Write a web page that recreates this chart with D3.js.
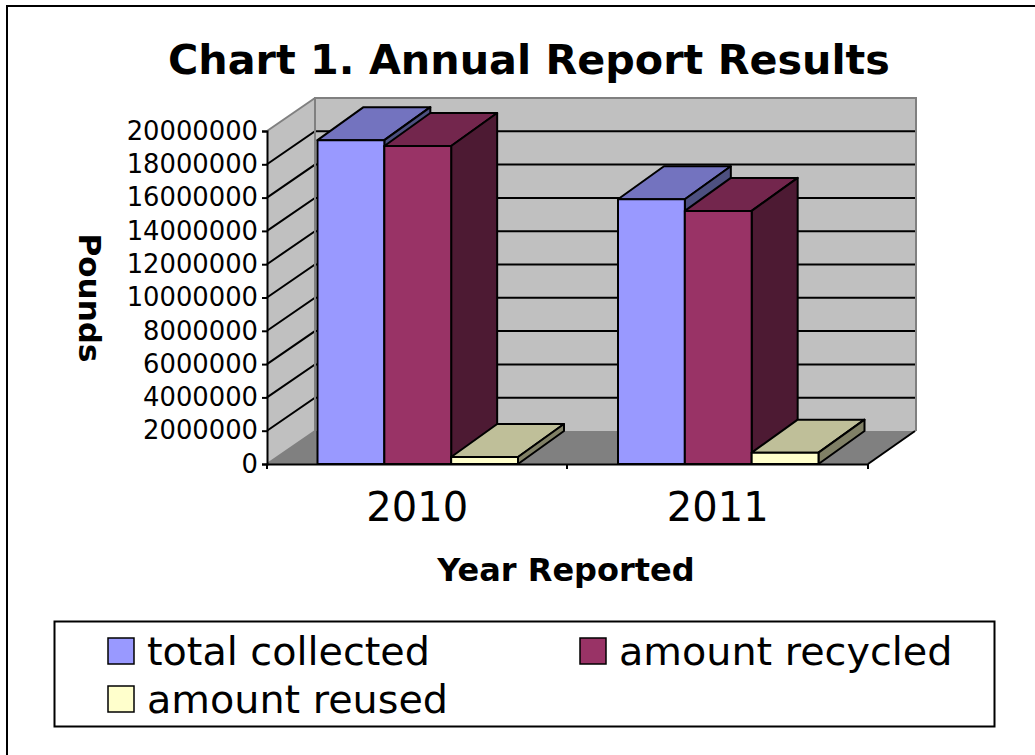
<!DOCTYPE html>
<html>
<head>
<meta charset="utf-8">
<script src="https://cdn.jsdelivr.net/npm/d3@7"></script>
<style>
  body { margin: 0; background: #fff; }
  text { font-family: "DejaVu Sans", Verdana, sans-serif; fill: #000; }
</style>
</head>
<body>
<svg width="1035" height="755"></svg>
<script>
const YEARS = ["2010", "2011"];
const SERIES = ["total collected", "amount recycled", "amount reused"];
const TOTAL_COLLECTED = [19450000, 15900000];
const AMOUNT_RECYCLED = [19100000, 15200000];
const AMOUNT_REUSED = [420000, 680000];
const Y_TICKS = [0, 2000000, 4000000, 6000000, 8000000, 10000000, 12000000, 14000000, 16000000, 18000000, 20000000];

const FRONT = ["#9999ff", "#993366", "#ffffcc"];
const TOP = ["#7373bf", "#73264d", "#bfbf99"];
const SIDE = ["#4d5080", "#4d1a33", "#808066"];

const VALUES = [TOTAL_COLLECTED, AMOUNT_RECYCLED, AMOUNT_REUSED];

const svg = d3.select("svg");

// depth of the fake 3d box
const DX = 46, DY = -33;

const x0 = d3.scaleBand().domain(YEARS).range([267, 868]);
const x1 = d3.scaleBand().domain(SERIES).range([50.5, 251]);
const y = d3.scaleLinear().domain([0, 20000000]).range([464, 131]);

const poly = (pts) => pts.map((p) => p.join(",")).join(" ");

// outer frame, only top and left show up
svg.append("path")
  .attr("d", "M7,755V6H1035")
  .attr("fill", "none").attr("stroke", "#000").attr("stroke-width", 2);

svg.append("text")
  .attr("x", 529).attr("y", 74)
  .attr("text-anchor", "middle")
  .attr("font-size", 41.3).attr("font-weight", "bold")
  .text("Chart 1. Annual Report Results");

// walls and floor
const x = 267, xr = 868, y0 = y(0), yt = y(20000000);
const xb = x + DX + 2, xrb = xr + DX + 2;
svg.append("polygon")
  .attr("points", poly([[xb, yt + DY], [xrb, yt + DY], [xrb, y0 + DY], [xb, y0 + DY]]))
  .attr("fill", "#c0c0c0");
svg.append("polygon")
  .attr("points", poly([[x, yt], [xb, yt + DY], [xb, y0 + DY], [x, y0]]))
  .attr("fill", "#c0c0c0");
svg.append("polygon")
  .attr("points", poly([[x, y0], [xb, y0 + DY], [xrb, y0 + DY], [xr, y0]]))
  .attr("fill", "#808080");

// gridlines run along the side wall then the back wall
svg.append("g").selectAll("polyline")
  .data(Y_TICKS.slice(1, -1))
  .enter()
  .append("polyline")
  .attr("points", (d) => poly([[x, y(d)], [xb, y(d) + DY], [xrb, y(d) + DY]]))
  .attr("fill", "none").attr("stroke", "#000").attr("stroke-width", 2);

// grey wall edges go over the gridlines
svg.append("path")
  .attr("d", `M${x},${y0}L${xb},${y0 + DY}V${yt + DY}H${xrb}V${y0 + DY}M${xb},${yt + DY}L${x},${yt}`)
  .attr("fill", "none").attr("stroke", "#808080").attr("stroke-width", 2);

// front right edge of the floor
svg.append("line")
  .attr("x1", xr).attr("y1", y0).attr("x2", xrb - 1).attr("y2", y0 + DY)
  .attr("stroke", "#000").attr("stroke-width", 2);

// bars
const rows = [];
YEARS.forEach((yr, i) => {
  SERIES.forEach((s, j) => {
    rows.push({ year: yr, series: s, index: j, value: VALUES[j][i] });
  });
});

const bars = svg.append("g").selectAll("g")
  .data(rows)
  .enter()
  .append("g")
  .attr("stroke", "#000").attr("stroke-width", 2).attr("stroke-linejoin", "round");

const left = (d) => x0(d.year) + x1(d.series);
const right = (d) => left(d) + x1.bandwidth();

bars.append("polygon")
  .attr("points", (d) => poly([[left(d), y(d.value)], [left(d) + DX, y(d.value) + DY], [right(d) + DX, y(d.value) + DY], [right(d), y(d.value)]]))
  .attr("fill", (d) => TOP[d.index]);
bars.append("polygon")
  .attr("points", (d) => poly([[right(d), y(d.value)], [right(d) + DX, y(d.value) + DY], [right(d) + DX, y(0) + DY], [right(d), y(0)]]))
  .attr("fill", (d) => SIDE[d.index]);
bars.append("rect")
  .attr("x", left)
  .attr("y", (d) => y(d.value))
  .attr("width", x1.bandwidth())
  .attr("height", (d) => y(0) - y(d.value))
  .attr("fill", (d) => FRONT[d.index]);

// axes
const yAxis = svg.append("g")
  .attr("transform", "translate(267,0)")
  .call(d3.axisLeft(y).tickValues(Y_TICKS).tickFormat(d3.format("d")).tickSize(5).tickPadding(4));
yAxis.selectAll("text").attr("font-size", 25.8).style("font-family", '"DejaVu Sans"');
yAxis.selectAll("line,path").attr("stroke", "#000").attr("stroke-width", 2);

const xAxis = svg.append("g")
  .attr("transform", "translate(0,464)")
  .call(d3.axisBottom(x0).tickSize(0).tickPadding(29));
xAxis.selectAll("text").attr("font-size", 40).style("font-family", '"DejaVu Sans"');
xAxis.select("path").attr("stroke", "#000").attr("stroke-width", 2);

svg.append("g").selectAll("line")
  .data([267, 567, 868])
  .enter()
  .append("line")
  .attr("x1", (d) => d).attr("x2", (d) => d)
  .attr("y1", 464).attr("y2", 469)
  .attr("stroke", "#000").attr("stroke-width", 2);

// axis titles
svg.append("text")
  .attr("transform", "translate(79,298) rotate(90)")
  .attr("text-anchor", "middle")
  .attr("font-size", 31).attr("font-weight", "bold")
  .text("Pounds");
svg.append("text")
  .attr("x", 566).attr("y", 581)
  .attr("text-anchor", "middle")
  .attr("font-size", 32).attr("font-weight", "bold")
  .text("Year Reported");

// legend
svg.append("rect")
  .attr("x", 54.5).attr("y", 621.5)
  .attr("width", 940).attr("height", 105)
  .attr("fill", "#fff").attr("stroke", "#000").attr("stroke-width", 2);

const legendX = d3.scaleOrdinal().domain(SERIES).range([108, 580, 108]);
const legendY = d3.scaleOrdinal().domain(SERIES).range([638, 638, 686]);

const items = svg.append("g").selectAll("g")
  .data(SERIES)
  .enter()
  .append("g")
  .attr("transform", (d) => `translate(${legendX(d)},${legendY(d)})`);
items.append("rect")
  .attr("width", 26).attr("height", 26)
  .attr("fill", (d, i) => FRONT[i])
  .attr("stroke", "#000").attr("stroke-width", 1.5);
items.append("text")
  .attr("x", 39).attr("y", 27)
  .attr("font-size", 39.7)
  .text((d) => d);
</script>
</body>
</html>
